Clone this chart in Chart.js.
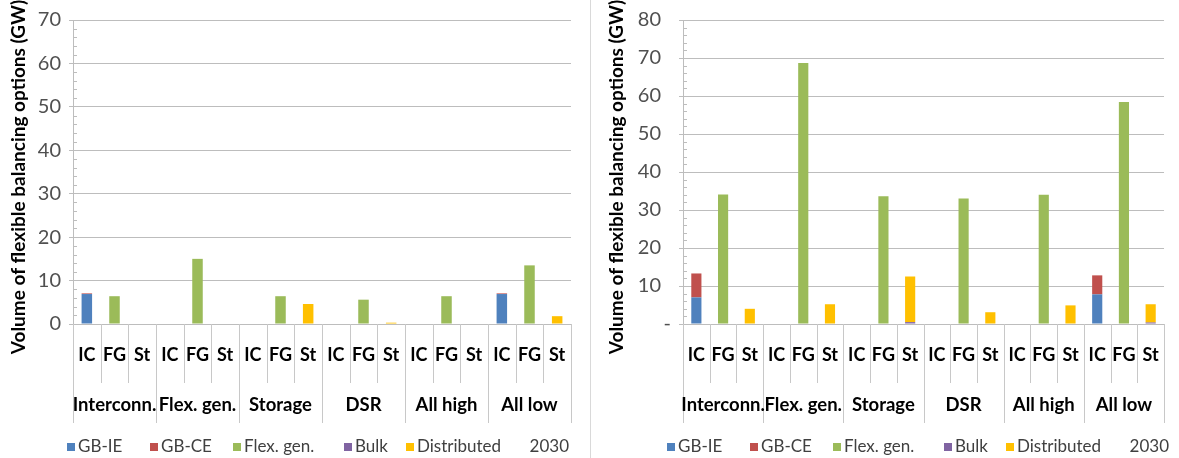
<!DOCTYPE html>
<html>
<head>
<meta charset="utf-8">
<script src="https://cdn.jsdelivr.net/npm/chart.js@4.4.1/dist/chart.umd.min.js"></script>
<style>
  body { margin: 0; background: #fff; }
  #wrap { position: relative; width: 1179px; height: 458px; }
  .panel { position: absolute; top: 0; height: 458px; }
  #p1 { left: 0; width: 590px; }
  #p2 { left: 590px; width: 589px; }
  #sep { position: absolute; left: 590px; top: 0; width: 1px; height: 458px; background: #d9d9d9; }
</style>
</head>
<body>
<div id="wrap">
  <div class="panel" id="p1"><canvas id="chart1"></canvas></div>
  <div class="panel" id="p2"><canvas id="chart2"></canvas></div>
  <div id="sep"></div>
</div>
<script>
const groups = ['Interconn.', 'Flex. gen.', 'Storage', 'DSR', 'All high', 'All low'];
const subLabels = ['IC', 'FG', 'St'];
const seriesNames = ['GB-IE', 'GB-CE', 'Flex. gen.', 'Bulk', 'Distributed'];
const seriesColors = ['#4F81BD', '#C0504D', '#9BBB59', '#8064A2', '#FFC000'];
const yearLabel = '2030';
const yTitle = 'Volume of flexible balancing options (GW)';

// left chart
const gbIe1 = [6.9, 0, 0,  0, 0, 0,  0, 0, 0,  0, 0, 0,  0, 0, 0,  6.9, 0, 0];
const gbCe1 = [0.15, 0, 0, 0, 0, 0,  0, 0, 0,  0, 0, 0,  0, 0, 0,  0.15, 0, 0];
const flex1 = [0, 6.4, 0,  0, 15.0, 0,  0, 6.4, 0,  0, 5.6, 0,  0, 6.4, 0,  0, 13.5, 0];
const bulk1 = [0, 0, 0,  0, 0, 0,  0, 0, 0,  0, 0, 0,  0, 0, 0,  0, 0, 0];
const dist1 = [0, 0, 0,  0, 0, 0,  0, 0, 4.6,  0, 0, 0.3,  0, 0, 0,  0, 0, 1.8];

// right chart
const gbIe2 = [7.0, 0, 0,  0, 0, 0,  0, 0, 0,  0, 0, 0,  0, 0, 0,  7.8, 0, 0];
const gbCe2 = [6.3, 0, 0,  0, 0, 0,  0, 0, 0,  0, 0, 0,  0, 0, 0,  5.0, 0, 0];
const flex2 = [0, 34.1, 0,  0, 68.7, 0,  0, 33.6, 0,  0, 33.0, 0,  0, 34.0, 0,  0, 58.4, 0];
const bulk2 = [0, 0, 0,  0, 0, 0,  0, 0, 0.5,  0, 0, 0,  0, 0, 0,  0, 0, 0.4];
const dist2 = [0, 0, 4.0,  0, 0, 5.2,  0, 0, 12.0,  0, 0, 3.1,  0, 0, 4.9,  0, 0, 4.8];

const labels = groups.flatMap(() => subLabels);
const FONT = 'Lato, sans-serif';
const gridCol = '#bdbdbd';
const sepCol = '#c8c8c8';

// minor ticks, axis title, two-level category separators, group names, legend
const decor = {
  id: 'decor',
  afterDraw(chart, args, opts) {
    const ctx = chart.ctx;
    const xs = chart.scales.x, ys = chart.scales.y;
    const area = chart.chartArea;
    ctx.save();
    ctx.strokeStyle = gridCol;
    ctx.lineWidth = 1;
    for (let v = 2; v < ys.max; v += 2) {
      if (v % 10 === 0) continue;
      const py = Math.round(ys.getPixelForValue(v)) + 0.5;
      ctx.beginPath();
      ctx.moveTo(area.left, py);
      ctx.lineTo(area.left + 4, py);
      ctx.stroke();
    }
    const half = (xs.getPixelForValue(1) - xs.getPixelForValue(0)) / 2;
    ctx.strokeStyle = sepCol;
    for (let i = 0; i <= labels.length; i++) {
      const px = Math.round(i < labels.length ? xs.getPixelForValue(i) - half : xs.getPixelForValue(i - 1) + half) + 0.5;
      const len = i % 3 === 0 ? 99 : 59;
      ctx.beginPath();
      ctx.moveTo(px, area.bottom);
      ctx.lineTo(px, area.bottom + len);
      ctx.stroke();
    }
    ctx.fillStyle = '#000';
    ctx.textAlign = 'center';
    ctx.textBaseline = 'middle';
    // y title
    ctx.save();
    ctx.font = 'bold 19px ' + FONT;
    ctx.translate(opts.titleX, 177);
    ctx.rotate(-Math.PI / 2);
    ctx.fillText(yTitle, 0, 0);
    ctx.restore();
    ctx.font = 'bold 18.5px ' + FONT;
    groups.forEach((g, i) => {
      ctx.fillText(g, xs.getPixelForValue(i * 3 + 1), area.bottom + 81);
    });
    ctx.font = '17px ' + FONT;
    ctx.textAlign = 'left';
    const ly = 447;
    seriesNames.forEach((n, i) => {
      const lx = opts.legendX[i];
      ctx.fillStyle = seriesColors[i];
      ctx.fillRect(lx, ly - 4, 8, 8);
      ctx.fillStyle = '#404040';
      ctx.fillText(n, lx + 11, ly);
    });
    ctx.textAlign = 'right';
    ctx.fillText(yearLabel, opts.yearX, ly);
    ctx.restore();
  }
};

function makeChart(id, series, yMax, cfg) {
  const ctx = document.getElementById(id).getContext('2d');
  return new Chart(ctx, {
    type: 'bar',
    data: {
      labels: labels,
      datasets: series.map((d, i) => ({
        label: seriesNames[i],
        data: d,
        backgroundColor: seriesColors[i],
        borderWidth: 0,
        barPercentage: 0.38,
        categoryPercentage: 1
      }))
    },
    options: {
      responsive: true,
      maintainAspectRatio: false,
      animation: false,
      layout: { padding: { top: 17, right: cfg.padRight, left: 0, bottom: 0 } },
      plugins: {
        legend: { display: false },
        tooltip: { enabled: false },
        decor: { legendX: cfg.legendX, yearX: cfg.yearX, titleX: cfg.titleX }
      },
      scales: {
        x: {
          stacked: true,
          grid: { display: false, drawTicks: false },
          border: { display: false },
          ticks: {
            autoSkip: false, maxRotation: 0, padding: 20,
            color: '#000', font: { family: FONT, size: 18, weight: 'bold' }
          },
          afterFit: s => { s.height = 134; }
        },
        y: {
          stacked: true,
          min: 0, max: yMax,
          ticks: {
            stepSize: 10, padding: cfg.tickPad,
            color: '#505050', font: { family: FONT, size: 20 },
            callback: cfg.tickFmt
          },
          grid: { color: gridCol, tickLength: 4, tickColor: gridCol },
          border: { color: gridCol },
          afterFit: s => { s.width = cfg.axisW; }
        }
      }
    },
    plugins: [decor]
  });
}

makeChart('chart1', [gbIe1, gbCe1, flex1, bulk1, dist1], 70, {
  padRight: 19, legendX: [67, 150, 233, 344, 406], yearX: 569, titleX: 19,
  tickPad: 8, axisW: 73,
  tickFmt: v => String(v)
});
makeChart('chart2', [gbIe2, gbCe2, flex2, bulk2, dist2], 80, {
  padRight: 9, legendX: [77, 160, 243, 354, 416], yearX: 579, titleX: 27,
  tickPad: 8, axisW: 93,
  tickFmt: v => v === 0 ? '-' : v + '\u2002'
});
</script>
</body>
</html>
